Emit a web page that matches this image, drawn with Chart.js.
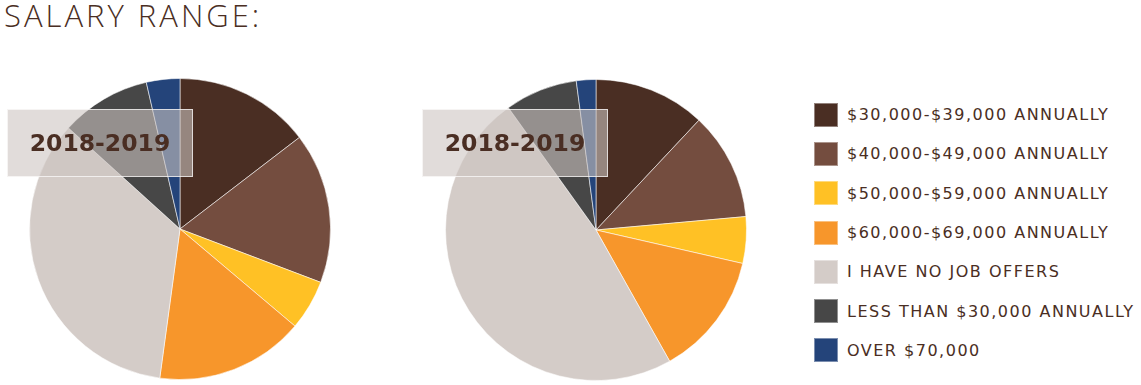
<!DOCTYPE html>
<html>
<head>
<meta charset="utf-8">
<script src="https://cdn.jsdelivr.net/npm/chart.js@4/dist/chart.umd.min.js"></script>
<style>
  html, body { margin: 0; padding: 0; background: #fff; }
  body { width: 1141px; height: 385px; position: relative; overflow: hidden; font-family: "DejaVu Sans", sans-serif; color: #4a2e23; }
  .title { position: absolute; left: 4px; top: -6px; font-size: 31px; font-weight: 300; letter-spacing: 3px; font-family: "Open Sans", "DejaVu Sans", sans-serif; }
  .pie { position: absolute; width: 302px; height: 302px; }
  .tag { position: absolute; width: 186px; height: 68px; box-sizing: border-box; background: rgba(204,196,192,0.59); border: 1px solid rgba(255,255,255,0.7); display: flex; align-items: center; justify-content: center; font-family: "DejaVu Sans", sans-serif; font-weight: bold; font-size: 23.5px; color: #4a2e23; }
  .legend { position: absolute; left: 814px; top: 95px; }
  .item { display: flex; align-items: center; height: 39.3px; }
  .sw { width: 24px; height: 24px; margin-right: 9px; box-sizing: border-box; border: 1px solid rgba(255,255,255,0.4); }
  .lbl { font-family: "DejaVu Sans", sans-serif; font-size: 16px; letter-spacing: 1.5px; color: #4a2e23; white-space: nowrap; }
</style>
</head>
<body>
<div class="title">SALARY RANGE:</div>
<div class="pie" style="left:29px; top:78px;"><canvas id="pieA"></canvas></div>
<div class="pie" style="left:445px; top:79px;"><canvas id="pieB"></canvas></div>
<div class="tag" style="left:7px; top:109px;">2018-2019</div>
<div class="tag" style="left:422px; top:109px;">2018-2019</div>
<div class="legend" id="legend"></div>
<script>
const labels = [
    '$30,000-$39,000 ANNUALLY',
    '$40,000-$49,000 ANNUALLY',
    '$50,000-$59,000 ANNUALLY',
    '$60,000-$69,000 ANNUALLY',
    'I HAVE NO JOB OFFERS',
    'LESS THAN $30,000 ANNUALLY',
    'OVER $70,000'
];
const colors = ['#4a2e23', '#744d3f', '#ffc125', '#f7962b', '#d4ccc8', '#474747', '#24447a'];

// percent of respondents
const leftPie = [14.6, 16.2, 5.4, 16.0, 34.6, 9.7, 3.6];
const rightPie = [12.0, 11.6, 5.0, 13.3, 48.3, 7.8, 2.1];

function makePie(id, values) {
    new Chart(document.getElementById(id), {
        type: 'pie',
        data: {
            labels: labels,
            datasets: [{
                data: values,
                backgroundColor: colors,
                borderColor: 'rgba(255,255,255,0.55)',
                borderWidth: 1
            }]
        },
        options: {
            responsive: true, maintainAspectRatio: false,
            animation: false,
            layout: { padding: 0 },
            plugins: { legend: { display: false }, tooltip: { enabled: false } }
        }
    });
}

makePie('pieA', leftPie);
makePie('pieB', rightPie);

// Legend
let html = '';
labels.forEach((l, i) => {
    html += `<div class="item"><div class="sw" style="background:${colors[i]}"></div><div class="lbl">${l}</div></div>`;
});
document.getElementById('legend').innerHTML = html;
</script>
</body>
</html>
